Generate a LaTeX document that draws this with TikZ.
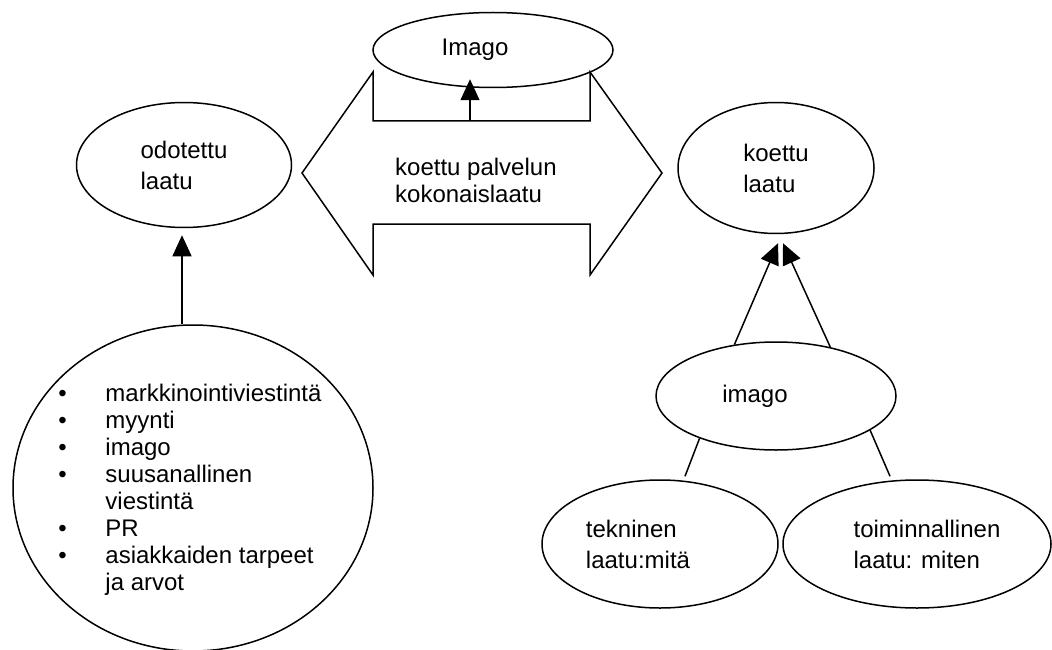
\documentclass[tikz,border=0pt]{standalone}
\usepackage{fontspec}
\setmainfont{Liberation Sans}
\usetikzlibrary{shapes.geometric,arrows.meta}
\newcommand{\lbul}{\makebox[47pt][l]{\textbullet}}
\newcommand{\lind}{\hspace*{47pt}}
\begin{document}
\begin{tikzpicture}[x=1pt,y=-1pt,
  every node/.style={font=\fontsize{24}{31}\selectfont},
  oval/.style={draw, ellipse, line width=1.5pt, inner sep=0pt, align=left},
  arr/.style={line width=1.5pt, -{Triangle[length=21pt,width=19pt]}},
  ln/.style={line width=1.5pt},
  outline/.style={line width=1.5pt, line join=miter},
]
\useasboundingbox (0,0) rectangle (1052,650);

% ellipses
\node[oval, minimum width=240pt, minimum height=75pt] (imagoT) at (493,50) {Imago\rule{36pt}{0pt}};
\node[oval, minimum width=215pt, minimum height=125pt] (odot) at (184,165) {odotettu\\laatu};
\node[oval, minimum width=196pt, minimum height=131pt] (koettu) at (776,168) {koettu\\laatu};
\node[oval, minimum width=240pt, minimum height=108pt] (imagoB) at (776,396) {imago\rule{42pt}{0pt}};
\node[oval, minimum width=236pt, minimum height=128pt] (tekn) at (660,544) {tekninen\\laatu:mitä\rule{44pt}{0pt}};
\node[oval, minimum width=268pt, minimum height=128pt] (toim) at (917,544) {\rule{20pt}{0pt}toiminnallinen\\\rule{20pt}{0pt}laatu: miten};
\node[oval, minimum width=360pt, minimum height=326pt, font=\fontsize{24}{27}\selectfont] (src) at (193,488)
  {\makebox[150pt]{\hspace*{-6pt}\raisebox{-3pt}[\height][\depth]{\begin{tabular}{@{}l@{}}
   \lbul markkinointiviestintä\\
   \lbul myynti\\
   \lbul imago\\
   \lbul suusanallinen\\
   \lind viestintä\\
   \lbul PR\\
   \lbul asiakkaiden tarpeet\\
   \lind ja arvot
   \end{tabular}}}};

% double arrow shape
\draw[outline] (302,173) -- (373,72) -- (373,121) -- (590,121) -- (590,72) -- (662,173)
  -- (590,275) -- (590,224) -- (373,224) -- (373,275) -- cycle;
\node[font=\fontsize{24}{27}\selectfont, align=left, inner sep=0pt, anchor=west] (total) at (395,180)
  {koettu palvelun\\kokonaislaatu};
\coordinate (shaft) at (470,121);

% connectors
\draw[arr, shorten >=-9pt] (shaft) -- (shaft |- imagoT.south);
\draw[arr, shorten >=7pt] ([xshift=-2pt]odot.south |- src.north) -- ([xshift=-2pt]odot.south);
\draw[arr] (imagoB.129) -- ([xshift=2pt,yshift=-9pt]koettu.south);
\draw[arr] (imagoB.42) -- ([xshift=7pt,yshift=-9pt]koettu.south);
\draw[ln] (imagoB.209) -- ([xshift=25pt,yshift=3pt]tekn.north);
\draw[ln] (imagoB.340) -- ([xshift=-27pt,yshift=3pt]toim.north);
\end{tikzpicture}
\end{document}
